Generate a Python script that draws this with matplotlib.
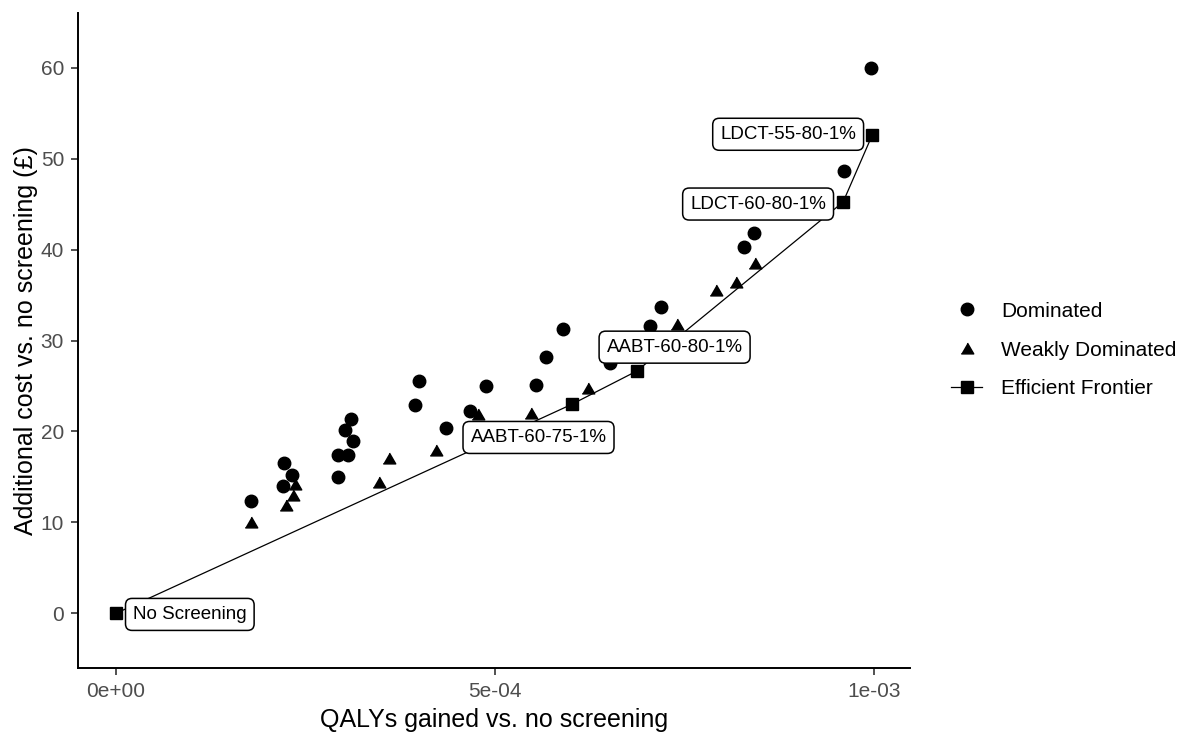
import matplotlib
matplotlib.use("Agg")
import matplotlib.pyplot as plt
from matplotlib.lines import Line2D

plt.rcParams['font.family'] = ['Liberation Sans', 'DejaVu Sans']

# dominated strategies
dom_qaly = [1.779e-4, 2.219e-4, 2.329e-4, 2.206e-4, 2.933e-4, 2.933e-4, 3.056e-4,
            3.122e-4, 3.025e-4, 3.100e-4, 3.946e-4, 4.003e-4, 4.346e-4, 4.663e-4,
            4.875e-4, 5.544e-4, 5.667e-4, 5.896e-4, 6.513e-4, 7.041e-4, 7.186e-4,
            8.283e-4, 8.419e-4, 9.604e-4, 9.960e-4]
dom_cost = [12.34, 16.48, 15.27, 13.99, 14.98, 17.36, 17.36,
            18.93, 20.14, 21.40, 22.89, 25.53, 20.41, 22.23,
            24.98, 25.09, 28.16, 31.21, 27.55, 31.57, 33.66,
            40.30, 41.84, 48.68, 59.97]

# weakly dominated
weak_qaly = [1.779e-4, 2.246e-4, 2.338e-4, 2.365e-4, 3.474e-4, 3.606e-4, 4.223e-4,
             4.769e-4, 5.478e-4, 6.226e-4, 7.398e-4, 7.913e-4, 8.177e-4, 8.428e-4]
weak_cost = [10.03, 11.87, 13.02, 14.23, 14.43, 17.11, 17.97,
             21.87, 22.05, 24.80, 31.76, 35.60, 36.41, 38.54]

# efficient frontier
front_qaly = [0.0, 6.007e-4, 6.865e-4, 9.587e-4, 9.970e-4]
front_cost = [0.0, 22.97, 26.63, 45.22, 52.56]
front_names = ["No Screening", "AABT-60-75-1%", "AABT-60-80-1%",
               "LDCT-60-80-1%", "LDCT-55-80-1%"]
label_offsets = [(74, -1), (-33, -33), (38, 24), (-85, -2), (-84, 1)]

x_ticks = [0, 5e-4, 1e-3]
x_ticklabels = ["0e+00", "5e-04", "1e-03"]
y_ticks = [0, 10, 20, 30, 40, 50, 60]

tri = [(-1, -0.866), (1, -0.866), (0, 0.866)]

fig = plt.figure(figsize=(11.94, 7.35), dpi=100)
ax = fig.add_axes([78/1194, 1-668/735, (910-78)/1194, (668-13)/735])

ax.plot(front_qaly, front_cost, color='black', lw=0.9, zorder=2)
ax.plot(dom_qaly, dom_cost, ls='none', marker='o', ms=9, color='black', zorder=3)
ax.plot(weak_qaly, weak_cost, ls='none', marker=tri, ms=9, color='black', zorder=3)
ax.plot(front_qaly, front_cost, ls='none', marker='s', ms=8, color='black', zorder=3)

for x, y, name, off in zip(front_qaly, front_cost, front_names, label_offsets):
    ax.annotate(name, (x, y), xytext=off, textcoords='offset pixels',
                ha='center', va='center', fontsize=13.5, zorder=5,
                bbox=dict(boxstyle='round,pad=0.4,rounding_size=0.35',
                          fc='white', ec='black', lw=1.1))

ax.set_xlim(-4.985e-5, 1.0469e-3)
ax.set_ylim(-6, 66)
ax.set_xticks(x_ticks)
ax.set_xticklabels(x_ticklabels)
ax.set_yticks(y_ticks)

for s in ['top', 'right']:
    ax.spines[s].set_visible(False)
for s in ['left', 'bottom']:
    ax.spines[s].set_linewidth(1.4)
    ax.spines[s].set_color('black')
ax.tick_params(length=5, width=1.2, color='#333333', labelcolor='#4D4D4D',
               labelsize=15, pad=5)

ax.set_xlabel('QALYs gained vs. no screening', fontsize=18, labelpad=5)
ax.set_ylabel('Additional cost vs. no screening (£)', fontsize=18, labelpad=2)

handles = [
    Line2D([], [], ls='none', marker='o', ms=9, color='black'),
    Line2D([], [], ls='none', marker=tri, ms=9, color='black'),
    Line2D([], [], ls='-', lw=0.9, marker='s', ms=8, color='black'),
]
fig.legend(handles, ['Dominated', 'Weakly Dominated', 'Efficient Frontier'],
           loc='center left', bbox_to_anchor=(951/1194, 1-350/735),
           frameon=False, fontsize=15, handlelength=1.5, handletextpad=0.9,
           labelspacing=0.95, borderpad=0, borderaxespad=0)

fig.savefig('out.png', dpi=100)
